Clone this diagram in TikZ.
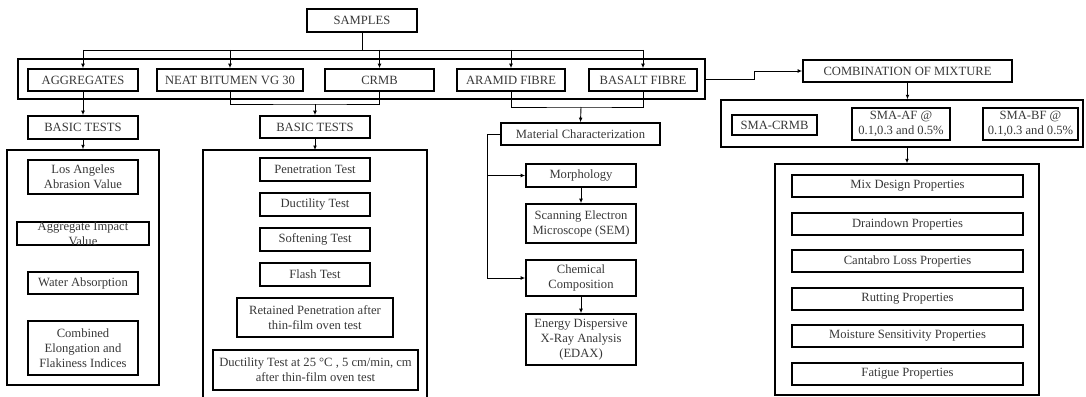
\documentclass[tikz,border=0pt]{standalone}
\usepackage{fontspec}
\setmainfont{Liberation Serif}
\usetikzlibrary{arrows.meta}
\definecolor{txt}{RGB}{55,55,55}
\newcommand\myfs{\fontsize{12.6}{15}\selectfont}
\tikzset{
  bx/.style={draw, line width=1.6pt, inner sep=0pt, align=center, text=txt, font=\myfs},
  grp/.style={draw, line width=1.4pt, inner sep=0pt},
  conn/.style={line width=0.9pt},
  arr/.style={conn, -{Latex[length=4.5pt,width=3.8pt]}},
}
\begin{document}
\begin{tikzpicture}[x=1pt,y=-1pt]
\useasboundingbox (0,0) rectangle (1086,396);
% top
\node[bx,minimum width=110pt,minimum height=23pt] (samples) at (362,20.5) {SAMPLES};
\node[grp,minimum width=687pt,minimum height=40pt] (outer1) at (361.5,79) {};
\node[bx,minimum width=110pt,minimum height=22pt] (agg) at (83,80) {AGGREGATES};
\node[bx,minimum width=146pt,minimum height=22pt] (neat) at (230,80) {NEAT BITUMEN VG 30};
\node[bx,minimum width=109pt,minimum height=22pt] (crmb) at (379.5,80) {CRMB};
\node[bx,minimum width=108pt,minimum height=22pt] (aramid) at (511,80) {ARAMID FIBRE};
\node[bx,minimum width=108pt,minimum height=22pt] (basalt) at (643,80) {BASALT FIBRE};
\coordinate (bus) at (362,50);
\draw[conn] (samples.south) -- (bus);
\draw[conn] (agg.north |- bus) -- (basalt.north |- bus);
\foreach \n in {agg,neat,crmb,aramid,basalt}
  \draw[arr] (\n.north |- bus) -- (\n.north);
% aggregates column
\node[bx,minimum width=110pt,minimum height=23pt] (bt1) at (83,127.5) {BASIC TESTS};
\node[grp,minimum width=152pt,minimum height=235pt] (outerA) at (83,267.5) {};
\node[bx,minimum width=110pt,minimum height=34pt] (la) at (83,177) {Los Angeles\\Abrasion Value};
\node[bx,minimum width=132pt,minimum height=23pt] (aiv) at (83,233.5) {};
\node[align=center,text=txt,font=\myfs,inner sep=0pt] (aivt) at (aiv.center) {Aggregate Impact\\Value};
\node[bx,minimum width=110pt,minimum height=22pt] (wa) at (83,283) {Water Absorption};
\node[bx,minimum width=110pt,minimum height=54pt] (cei) at (83,348) {Combined\\Elongation and\\Flakiness Indices};
\draw[arr] (agg.south) -- (bt1.north);
\draw[arr] (bt1.south) -- (outerA.north);
% bitumen column
\coordinate (j1) at (315,104);
\draw[conn] (neat.south) |- (j1) -| (crmb.south);
\node[bx,minimum width=110pt,minimum height=22pt] (bt2) at (315,127) {BASIC TESTS};
\draw[arr] (j1) -- (bt2.north);
\coordinate (oBtop) at (315,150);
\draw[line width=1.4pt] (203,398) -- (203,150) -- (427,150) -- (427,398);
\draw[arr] (bt2.south) -- (oBtop);
\node[bx,minimum width=110pt,minimum height=23pt] (pen) at (315,169.5) {Penetration Test};
\node[bx,minimum width=110pt,minimum height=23pt] (duc) at (315,204.5) {Ductility Test};
\node[bx,minimum width=110pt,minimum height=23pt] (sof) at (315,239.5) {Softening Test};
\node[bx,minimum width=110pt,minimum height=23pt] (fla) at (315,274.5) {Flash Test};
\node[bx,minimum width=156pt,minimum height=39pt] (ret) at (315,317.5) {Retained Penetration after\\thin-film oven test};
\node[bx,minimum width=205pt,minimum height=40pt] (d25) at (315.5,370) {Ductility Test at 25 °C , 5 cm/min, cm\\after thin-film oven test};
% fibre column
\coordinate (j2) at (581,107);
\draw[conn] (aramid.south) |- (j2) -| (basalt.south);
\node[bx,minimum width=159pt,minimum height=22pt] (matc) at (580.5,134) {Material Characterization};
\draw[arr] (j2) -- (matc.north);
\node[bx,minimum width=110pt,minimum height=23pt] (morph) at (581,175.5) {Morphology};
\node[bx,minimum width=110pt,minimum height=39pt] (sem) at (581,223.5) {Scanning Electron\\Microscope (SEM)};
\node[bx,minimum width=110pt,minimum height=36pt] (chem) at (581,278) {Chemical\\Composition};
\node[bx,minimum width=110pt,minimum height=51pt] (edax) at (581,339.5) {Energy Dispersive\\X-Ray Analysis\\(EDAX)};
\coordinate (mx) at (487,134);
\draw[conn] (matc.west) -- (mx);
\draw[arr] (mx) |- (chem.west);
\draw[arr] (mx |- morph.west) -- (morph.west);
\draw[arr] (morph.south) -- (sem.north);
\draw[arr] (chem.south) -- (edax.north);
% mixture column
\node[bx,minimum width=209pt,minimum height=22pt] (comb) at (907.5,71) {COMBINATION OF MIXTURE};
\draw[arr] (outer1.east) -- (754,79) |- (comb.west);
\node[grp,minimum width=362pt,minimum height=47pt] (outer2) at (902,123.5) {};
\node[bx,minimum width=85pt,minimum height=20pt] (smacrmb) at (774.5,125) {SMA-CRMB};
\node[bx,minimum width=98pt,minimum height=32pt] (smaaf) at (901,124) {SMA-AF @\\0.1,0.3 and 0.5\%};
\node[bx,minimum width=95pt,minimum height=32pt] (smabf) at (1030.5,124) {SMA-BF @\\0.1,0.3 and 0.5\%};
\draw[arr] (comb.south) -- (comb.south |- outer2.north);
\node[grp,minimum width=264pt,minimum height=231pt] (outer3) at (907,279.5) {};
\draw[arr] (outer3.north |- outer2.south) -- (outer3.north);
\node[bx,minimum width=231pt,minimum height=22pt] (p1) at (907.5,186) {Mix Design Properties};
\node[bx,minimum width=231pt,minimum height=22pt] (p2) at (907.5,224) {Draindown Properties};
\node[bx,minimum width=231pt,minimum height=22pt] (p3) at (907.5,261) {Cantabro Loss Properties};
\node[bx,minimum width=231pt,minimum height=22pt] (p4) at (907.5,299) {Rutting Properties};
\node[bx,minimum width=231pt,minimum height=22pt] (p5) at (907.5,336) {Moisture Sensitivity Properties};
\node[bx,minimum width=231pt,minimum height=22pt] (p6) at (907.5,374) {Fatigue Properties};
\end{tikzpicture}
\end{document}
